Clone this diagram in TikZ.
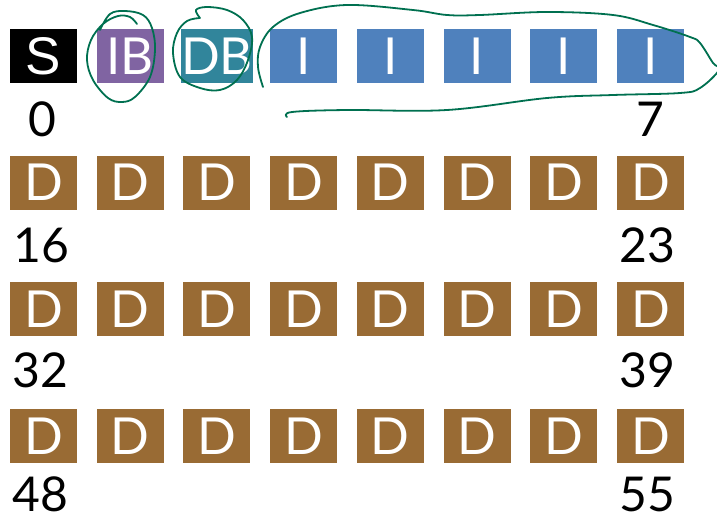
\documentclass[tikz,border=0pt]{standalone}
\usepackage{fontspec}
\setmainfont{Lato}
\newfontfamily\arialf{Liberation Sans}
\definecolor{ibc}{RGB}{128,100,162}
\definecolor{dbc}{RGB}{49,133,155}
\definecolor{ic}{RGB}{79,129,189}
\definecolor{dc}{RGB}{153,107,52}
\definecolor{inkgreen}{RGB}{0,112,80}
\begin{document}
\begin{tikzpicture}[x=1pt,y=-1pt,
  cell/.style={minimum width=67pt,minimum height=54pt,inner sep=0pt,text=white,
    font=\fontsize{51}{51}\selectfont},
  num/.style={font=\fontsize{48}{48}\selectfont,inner sep=0pt},
  ink/.style={draw=inkgreen,line width=1.8pt,line cap=round,line join=round}]
\useasboundingbox (0,0) rectangle (717,521);
\clip (0,0) rectangle (717,521);
% row 0
\node[cell,fill=black,font=\arialf\fontsize{53}{53}\selectfont] (s) at (43.5,56) {S};
\node[cell,fill=ibc] (ib) at (130.2,56) {IB};
\node[cell,fill=dbc] (db) at (216.9,56) {DB};
\foreach \i in {3,...,7}
  \node[cell,fill=ic] (i\i) at ({43.5+86.7*\i},56) {I};
% D rows
\foreach \r in {1,2,3}
  \foreach \i in {0,...,7}
    \node[cell,fill=dc] (d\r\i) at ({43.5+86.7*\i},{56+126.7*\r}) {D};
% labels
\node[num] (n0) at (42,119) {0};
\node[num] (n7) at (650,119) {7};
\node[num] (n16) at (41,245) {16};
\node[num] (n23) at (647,245) {23};
\node[num] (n32) at (40,370) {32};
\node[num] (n39) at (647,370) {39};
\node[num] (n48) at (40,494) {48};
\node[num] (n55) at (647,494) {55};
% ink annotations
\draw[ink] plot[smooth,tension=0.6] coordinates {(100,30) (110,14) (125,11) (143,15) (152,28) (155,50) (150,77) (135,97) (122,102) (108,98) (93,80) (87,60) (91,40) (103,24) (118,16) (130,17) (137,24)};
\draw[ink] plot[smooth,tension=0.6] coordinates {(200,18) (196,10) (207,7) (227,10) (243,20) (252,37) (248,60) (237,80) (220,90) (200,88) (180,77) (173,53) (177,33) (187,21) (200,18)};
\draw[ink] plot[smooth,tension=0.6] coordinates {(263,87) (258,67) (260,47) (273,27) (300,13) (347,5) (413,10) (447,15) (480,15) (547,12) (613,15) (653,25) (690,37) (700,43) (713,63) (719,70) (700,88) (680,93) (613,95) (547,98) (447,110) (347,110) (292,112) (287,117)};
\end{tikzpicture}
\end{document}
